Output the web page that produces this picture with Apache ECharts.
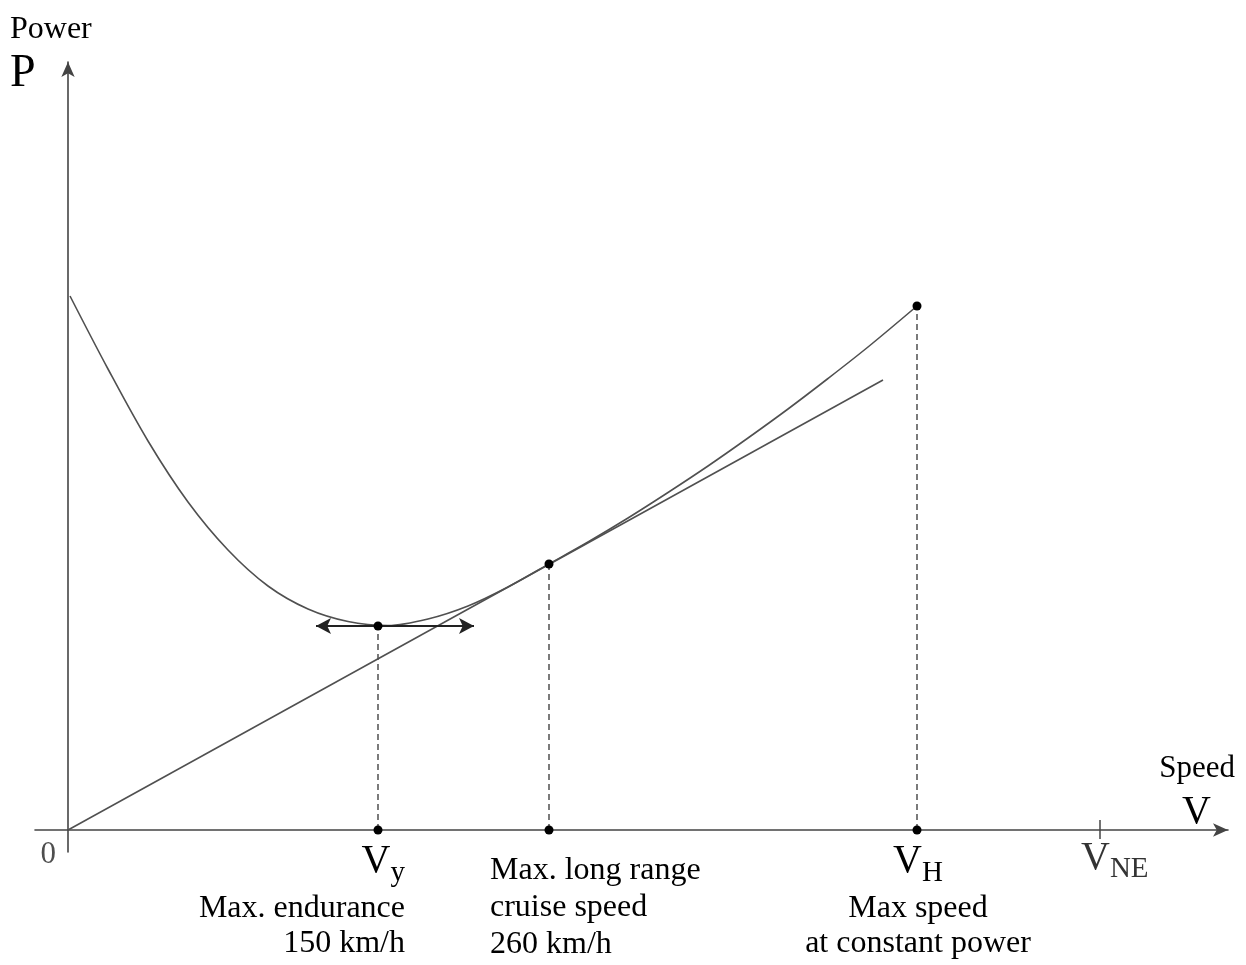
<!DOCTYPE html>
<html>
<head>
<meta charset="utf-8">
<script src="https://cdn.jsdelivr.net/npm/echarts@6/dist/echarts.min.js"></script>
<style>html,body{margin:0;padding:0;background:#fff}#c{width:1246px;height:965px}</style>
</head>
<body>
<div id="c"></div>
<script>
// Power-required curve (abstract units)
const curveX = [2, 40, 80, 120, 160, 200, 240, 280, 320, 360, 400, 440, 480, 520, 560, 600, 640, 680, 720, 760, 800, 849];
const curveY = [534, 461, 389, 328, 280, 244, 221, 208.5, 204.5, 211, 224, 243, 265.5, 288, 312, 337.5, 364, 392, 421, 451.5, 483, 524];
// tangent line from origin
const tangentX = [0, 815];
const tangentY = [0, 450];
// marked speeds: Vy, cruise, VH
const dropX = [310, 481, 849];
const dropY = [204, 266, 524];
// horizontal double arrow at Vy
const arrowX = [248, 406];
const arrowY = 204;
// V_NE tick
const vneX = 1032;
const vneTick = [-9, 10];
// texts
const labelTexts = [
  '{v|V}{s|y}\n{t|Max. endurance}\n{t|150 km/h}',
  '{t|Max. long range}\n{t|cruise speed}\n{t|260 km/h}',
  '{v|V}{s|H}\n{t|Max speed}\n{t|at constant power}'
];
const vneText = '{v|V}{s|NE}';
const zeroText = '0';
const yTitle = ['Power', 'P'];
const xTitle = ['Speed', 'V'];

const FF = 'Liberation Serif';
const LINE = '#505050';
const AX = '#444';
const TXT = '#000';

const chart = echarts.init(document.getElementById('c'));

const richBase = {
  v: {fontSize: 40, fontFamily: FF, color: TXT, lineHeight: 54, verticalAlign: 'bottom', padding: [0, 0, 10, 0]},
  s: {fontSize: 29, fontFamily: FF, color: TXT, lineHeight: 54, verticalAlign: 'bottom', padding: [0, 0, 4, 0]},
  t: {fontSize: 32, fontFamily: FF, color: TXT, lineHeight: 35}
};

const labelCfg = [
  {align: 'right', offset: [27, 0], distance: 3},
  {align: 'left', offset: [-59, 0], distance: 18, lineHeightT: 37},
  {align: 'center', offset: [1, 0], distance: 3}
];

const axisPts = dropX.map((x, i) => {
  const rich = JSON.parse(JSON.stringify(richBase));
  if (labelCfg[i].lineHeightT) rich.t.lineHeight = labelCfg[i].lineHeightT;
  return {
    value: [x, 0],
    label: {
      show: true, position: 'bottom', distance: labelCfg[i].distance,
      align: labelCfg[i].align, offset: labelCfg[i].offset, color: TXT, opacity: 1,
      textBorderWidth: 0, formatter: labelTexts[i], rich: rich
    }
  };
});

const series = [
  {type: 'line', data: curveX.map((x, i) => [x, curveY[i]]), smooth: 0.33, symbol: 'none',
   lineStyle: {color: LINE, width: 1.6}, z: 3},
  {type: 'line', data: tangentX.map((x, i) => [x, tangentY[i]]), symbol: 'none',
   lineStyle: {color: LINE, width: 1.6}, z: 3}
];
dropX.forEach((x, i) => {
  series.push({type: 'line', data: [[x, 0], [x, dropY[i]]], symbol: 'none',
    lineStyle: {color: '#333', width: 1.3, type: [6, 4]}, z: 2});
});
series.push({type: 'scatter', data: dropX.map((x, i) => [x, dropY[i]]), symbolSize: 9,
  itemStyle: {color: '#000', opacity: 1}, z: 5});
series.push({type: 'scatter', data: axisPts, symbolSize: 9, itemStyle: {color: '#000', opacity: 1}, z: 5});
series.push({type: 'line', data: [[vneX, vneTick[0]], [vneX, vneTick[1]]], symbol: 'none',
  lineStyle: {color: AX, width: 1.5}, z: 4});
series.push({type: 'scatter', data: [{value: [vneX, 0], label: {show: true, position: 'bottom', distance: 4,
  align: 'left', offset: [-19, 0], color: TXT, formatter: vneText, rich: richBase}}], symbolSize: 0, z: 5});
series.push({type: 'scatter', data: [{value: [0, 0], label: {show: true, position: 'bottom', distance: 9,
  align: 'right', offset: [-12, 0], formatter: zeroText, fontFamily: FF, fontSize: 31, color: '#222'}}],
  symbolSize: 0, z: 5});
series.push({type: 'line', data: [], symbol: 'none',
  markLine: {silent: true, symbol: ['arrow', 'arrow'], symbolSize: [12, 15], label: {show: false},
    lineStyle: {color: '#222', width: 1.8, type: 'solid'},
    data: [[{coord: [arrowX[0], arrowY]}, {coord: [arrowX[1], arrowY]}]]}});

chart.setOption({
  animation: false,
  backgroundColor: '#fff',
  grid: {left: 35, right: 18, top: 62, bottom: 113, containLabel: false},
  xAxis: {type: 'value', min: -33, max: 1160, splitLine: {show: false}, axisTick: {show: false},
    axisLabel: {show: false},
    axisLine: {onZero: true, symbol: ['none', 'arrow'], symbolSize: [10, 15], lineStyle: {color: AX, width: 1.6}}},
  yAxis: {type: 'value', min: -22, max: 768, splitLine: {show: false}, axisTick: {show: false},
    axisLabel: {show: false},
    axisLine: {onZero: true, symbol: ['none', 'arrow'], symbolSize: [10, 15], lineStyle: {color: AX, width: 1.6}}},
  graphic: [
    {type: 'text', left: 10, top: 14, style: {text: yTitle[0], font: '32px "Liberation Serif"', fill: TXT}},
    {type: 'text', left: 10, top: 51, style: {text: yTitle[1], font: '46px "Liberation Serif"', fill: TXT}},
    {type: 'text', right: 11, top: 753, style: {text: xTitle[0], font: '31px "Liberation Serif"', fill: TXT}},
    {type: 'text', left: 1182, top: 792, style: {text: xTitle[1], font: '40px "Liberation Serif"', fill: TXT}}
  ],
  series: series
});
</script>
</body>
</html>
